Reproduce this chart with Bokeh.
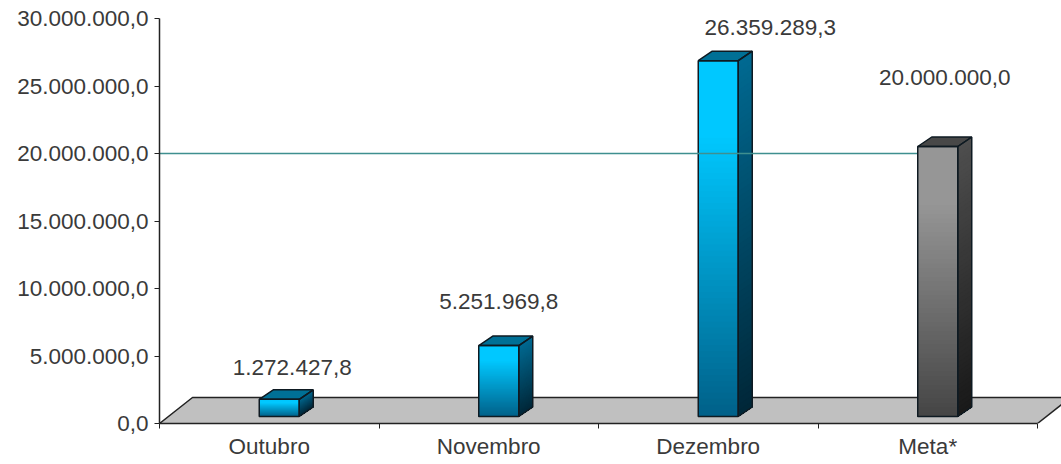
from bokeh.plotting import figure
from bokeh.embed import file_html
from bokeh.resources import INLINE
from bokeh.models import FixedTicker, ColumnDataSource, Range1d
from bokeh.core.properties import value

categories = ["Outubro", "Novembro", "Dezembro", "Meta*"]
values = [1272427.8, 5251969.8, 26359289.3, 20000000.0]
labels = ["1.272.427,8", "5.251.969,8", "26.359.289,3", "20.000.000,0"]
y_ticks = [0, 5e6, 10e6, 15e6, 20e6, 25e6, 30e6]
y_tick_labels = ["0,0", "5.000.000,0", "10.000.000,0", "15.000.000,0", "20.000.000,0", "25.000.000,0", "30.000.000,0"]
meta_line = 20000000.0

# styles: (front top, front bottom, side top, side bottom, top face)
BLUE = ((0, 200, 255), (0, 95, 135), (0, 105, 145), (0, 38, 55), (0, 112, 150))
GREY = ((150, 150, 150), (68, 68, 68), (78, 78, 78), (24, 24, 24), (72, 72, 72))
bar_styles = [BLUE, BLUE, BLUE, GREY]

PX_X = 219.5           # px per category
PX_Y = 13.5 / 1e6      # px per unit
W = 40 / PX_X          # bar width
DX = 14 / PX_X         # depth offset, x
DY = 9.5 / PX_Y        # depth offset, y
BASE = 7 / PX_Y        # bars stand on the middle of the floor
SHIFT = 10 / PX_X      # bar offset from category centre
FLOOR_DX = 33 / PX_X
FLOOR_DY = 26 / PX_Y
LABEL_X = [23 / PX_X, 10 / PX_X, 62 / PX_X, 17 / PX_X]   # label offset from category centre
LABEL_UP = [32, 44, 33, 69]  # px above bar top
STEPS = 60
TEXT = "#3a3a3a"
LINE = "#0e1a22"
FONT = "Liberation Sans"
FS = "22.5px"

p = figure(width=1061, height=464, output_backend="svg", toolbar_location=None,
           x_range=Range1d(0, 902 / PX_X),
           y_range=Range1d(0, 423 / PX_Y),
           min_border_left=159, min_border_right=0, min_border_top=0, min_border_bottom=41,
           frame_width=902, frame_height=423,
           background_fill_color="white", border_fill_color="white", outline_line_color=None)
p.grid.visible = False

ax = p.xaxis[0]
ax.ticker = FixedTicker(ticks=[i + 0.5 for i in range(len(categories))],
                        minor_ticks=list(range(len(categories) + 1)))
ax.major_label_overrides = {i + 0.5: c for i, c in enumerate(categories)}
ax.bounds = (0, len(categories))
ax.major_tick_line_color = None
ax.minor_tick_out = 5
ax.minor_tick_in = 0
ax.minor_tick_line_color = "#222222"
ax.minor_tick_line_width = 1
ax.axis_line_color = "#222222"
ax.axis_line_width = 1.5
ax.major_label_text_font = FONT
ax.major_label_text_font_size = FS
ax.major_label_text_color = TEXT
ax.major_label_standoff = 4

ay = p.yaxis[0]
ay.ticker = FixedTicker(ticks=y_ticks)
ay.major_label_overrides = {t: l for t, l in zip(y_ticks, y_tick_labels)}
ay.bounds = (0, y_ticks[-1])
ay.major_tick_out = 5
ay.major_tick_in = 0
ay.minor_tick_line_color = None
ay.major_tick_line_color = "#222222"
ay.axis_line_color = "#222222"
ay.axis_line_width = 1.5
ay.major_label_text_font = FONT
ay.major_label_text_font_size = FS
ay.major_label_text_color = TEXT
ay.major_label_standoff = 6

# floor
n = len(categories)
p.patch([0, n, n + FLOOR_DX, FLOOR_DX], [0, 0, FLOOR_DY, FLOOR_DY],
        fill_color="#c0c0c0", line_color=None)
p.line([0, FLOOR_DX, n + FLOOR_DX], [0, FLOOR_DY, FLOOR_DY], line_color="#222222", line_width=1.5)
p.line([n, n + FLOOR_DX], [0, FLOOR_DY], line_color="#222222", line_width=1.5)


def mix(a, b, t):
    return "#%02x%02x%02x" % tuple(int(round(a[i] + (b[i] - a[i]) * t)) for i in range(3))


def draw_bar(i):
    v, st = values[i], bar_styles[i]
    l = i + 0.5 + SHIFT - W / 2
    r = l + W
    b, t = BASE, BASE + v
    xs, ys, cs = [], [], []
    for k in range(STEPS):
        f0 = k / STEPS
        y1 = t - (t - b) * f0
        # nested shapes, each painted over the one before, so no seams show
        xs.append([l, r, r, l]); ys.append([b, b, y1, y1])
        cs.append(mix(st[0], st[1], max(0, (f0 - 0.2) / 0.8)))
    p.patches(xs, ys, fill_color=cs, line_color=None)
    xs, ys, cs = [], [], []
    for k in range(STEPS):
        f0 = k / STEPS
        y1 = t - (t - b) * f0
        xs.append([r, r + DX, r + DX, r]); ys.append([b, b + DY, y1 + DY, y1])
        cs.append(mix(st[2], st[3], f0))
    p.patches(xs, ys, fill_color=cs, line_color=None)
    # top face and outlines
    p.patch([l, r, r + DX, l + DX], [t, t, t + DY, t + DY], fill_color=mix(st[4], st[4], 0),
            line_color=LINE, line_width=1.5)
    p.patch([l, r, r, l], [b, b, t, t], fill_color=None, line_color=LINE, line_width=1.5)
    p.patch([r, r + DX, r + DX, r], [b, b + DY, t + DY, t], fill_color=None, line_color=LINE, line_width=1.5)


for i in range(3):
    draw_bar(i)

# reference line, running up to the left edge of the last bar
p.line([0, n - 0.5 + SHIFT - W / 2], [meta_line, meta_line], line_color="#3f8f8f", line_width=1.5)

draw_bar(3)

src = ColumnDataSource(dict(
    x=[i + 0.5 + LABEL_X[i] for i in range(n)],
    y=[BASE + values[i] + LABEL_UP[i] / PX_Y for i in range(n)],
    t=labels))
p.text("x", "y", text="t", source=src, text_align="center", text_baseline="middle",
       text_font=value(FONT), text_font_size=FS, text_color=TEXT)

open("out.html", "w").write(file_html(p, INLINE))
